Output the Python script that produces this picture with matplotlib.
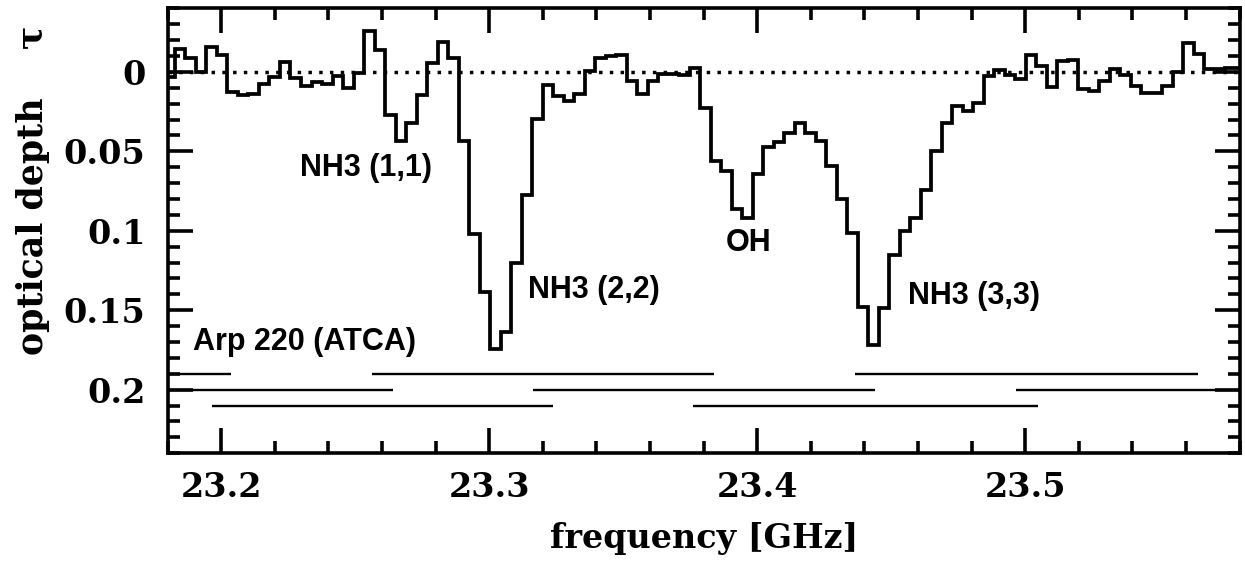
import numpy as np
import matplotlib
matplotlib.use("Agg")
import matplotlib.pyplot as plt
from matplotlib.ticker import MultipleLocator

# ---------------- data ----------------
# channel grid of the spectrum (GHz)
chan_first_edge = 23.1827
chan_width = 0.00392
# optical depth per channel (first channel starts one width before chan_first_edge)
tau = [0.003,
       -0.0143, -0.009, 0.0, -0.0157, -0.0105, 0.0126, 0.0147, 0.014, 0.0078, 0.003,
       -0.0059, 0.0036, 0.0088, 0.0067, 0.0078, 0.0025, 0.0099, 0.0008, -0.0258, -0.0136,
       0.0273, 0.0434, 0.0319, 0.0147, -0.0055, -0.0185, -0.009, 0.0434, 0.102, 0.1385,
       0.1745, 0.164, 0.12, 0.0776, 0.0294, 0.0084, 0.0151, 0.0182, 0.014, -0.0006,
       -0.009, -0.01, -0.0105, 0.0057, 0.014, 0.0057, 0.0015, 0.0015, 0.002, -0.0027,
       0.023, 0.0564, 0.0623, 0.0864, 0.0917, 0.0644, 0.0472, 0.044, 0.0386, 0.0323,
       0.0386, 0.0434, 0.0592, 0.0801, 0.1011, 0.1479, 0.172, 0.1483, 0.1152, 0.1001,
       0.0921, 0.0743, 0.0497, 0.0319, 0.0214, 0.0245, 0.0197, 0.0029, -0.001, 0.0021,
       0.0046, -0.0105, -0.0034, 0.0094, -0.0069, -0.0073, 0.0105, 0.012, 0.0057, -0.0017,
       0.0021, 0.0092, 0.0134, 0.0134, 0.0088, 0.0, -0.018, -0.0111, -0.0021, -0.0017,
       -0.0027, -0.0027]

# ATCA band settings (start / end frequency in GHz, row level in tau)
band_start = [23.0757, 23.136, 23.1966, 23.2563, 23.3162, 23.3761, 23.4365, 23.4965]
band_end = [23.2037, 23.264, 23.3238, 23.3839, 23.4441, 23.5046, 23.5645, 23.6245]
band_level = [0.19, 0.20, 0.21, 0.19, 0.20, 0.21, 0.19, 0.20]

# line labels: text, left x (GHz), centre y (tau)
label_text = ["NH3 (1,1)", "NH3 (2,2)", "OH", "NH3 (3,3)", "Arp 220 (ATCA)"]
label_x = [23.2294, 23.3146, 23.3882, 23.4563, 23.1896]
label_y = [0.0602, 0.1372, 0.1076, 0.141, 0.170]

x_ticks = [23.2, 23.3, 23.4, 23.5]
y_ticks = [0, 0.05, 0.1, 0.15, 0.2]
y_ticklabels = ["0", "0.05", "0.1", "0.15", "0.2"]

# ---------------- plot ----------------
fig = plt.figure(figsize=(12.45, 5.63), dpi=100)
ax = fig.add_axes([0.1347, 0.1949, 0.8610, 0.7904])

edges = chan_first_edge + chan_width * (np.arange(len(tau) + 1) - 1)
ax.stairs(tau, edges, baseline=None, color="black", linewidth=2.7)

ax.axhline(0, color="black", linewidth=2.5, linestyle=(0, (1, 2.1)))

ax.hlines(band_level, band_start, band_end, color="black", linewidth=1.7)

for t, x, y in zip(label_text, label_x, label_y):
    ax.text(x, y, t, ha="left", va="center", fontsize=22,
            fontweight="bold", family="Liberation Sans", color="black")

ax.set_xlim(23.18, 23.58)
ax.set_ylim(0.24, -0.04)

ax.set_xticks(x_ticks)
ax.set_xticklabels([f"{v:.1f}" for v in x_ticks])
ax.set_yticks(y_ticks)
ax.set_yticklabels(y_ticklabels)
ax.xaxis.set_minor_locator(MultipleLocator(0.02))
ax.yaxis.set_minor_locator(MultipleLocator(0.01))

for lab in ax.get_xticklabels() + ax.get_yticklabels():
    lab.set_fontfamily("DejaVu Serif")
    lab.set_fontweight("bold")
    lab.set_fontsize(24)

ax.tick_params(which="both", direction="in", top=True, right=True,
               width=2.6, color="black")
ax.tick_params(which="major", length=18)
ax.tick_params(which="minor", length=8.6)
ax.tick_params(axis="x", which="major", pad=13)
ax.tick_params(axis="y", which="major", pad=16)

for s in ax.spines.values():
    s.set_linewidth(2.6)

lab_font = {"family": "DejaVu Serif", "size": 25, "weight": "bold"}
ax.set_xlabel("frequency [GHz]", fontdict={"family": "DejaVu Serif", "size": 24,
                                           "weight": "bold"}, va="center")
ax.xaxis.set_label_coords(0.5, -0.1926)
ax.set_ylabel("optical depth    τ", fontdict=lab_font, va="center")
ax.yaxis.set_label_coords(-0.1257, 0.5917)

fig.savefig("out.png", dpi=100)
